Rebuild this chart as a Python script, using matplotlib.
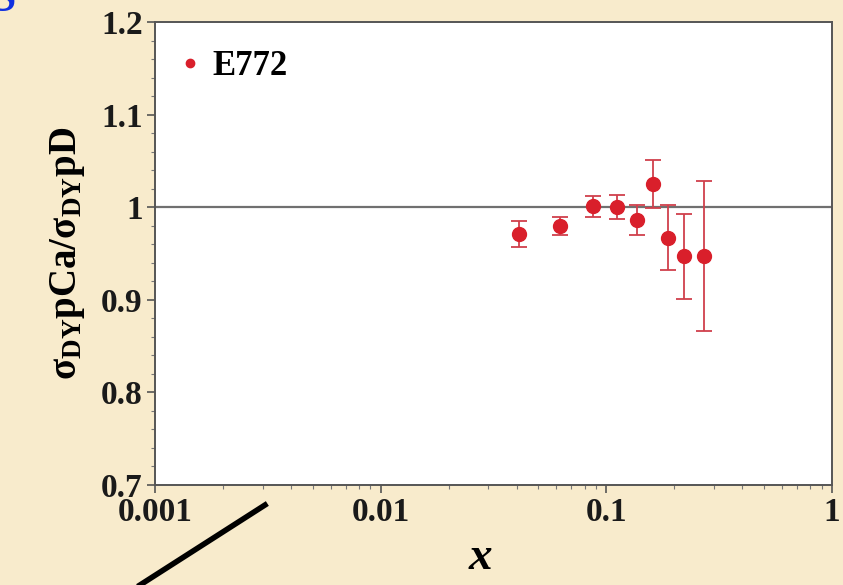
import numpy as np
import matplotlib.pyplot as plt
from matplotlib.lines import Line2D

# E772 pCa/pD Drell-Yan ratio
x_vals = [0.0411, 0.0622, 0.0875, 0.111, 0.136, 0.161, 0.187, 0.221, 0.272]
ratio = [0.971, 0.980, 1.001, 1.000, 0.986, 1.025, 0.967, 0.947, 0.947]
err = [0.014, 0.010, 0.011, 0.013, 0.016, 0.026, 0.035, 0.046, 0.081]

x_ticks = [0.001, 0.01, 0.1, 1]
x_ticklabels = ['0.001', '0.01', '0.1', '1']
y_ticks = [0.7, 0.8, 0.9, 1.0, 1.1, 1.2]
y_ticklabels = ['0.7', '0.8', '0.9', '1', '1.1', '1.2']

plt.rcParams['font.family'] = 'Liberation Serif'
plt.rcParams['font.weight'] = 'bold'
plt.rcParams['mathtext.fontset'] = 'custom'
plt.rcParams['mathtext.rm'] = 'Liberation Serif:bold'
plt.rcParams['mathtext.it'] = 'Liberation Serif:italic:bold'
plt.rcParams['mathtext.bf'] = 'Liberation Serif:bold'

bg = '#f8ebcc'
red = '#d91f2b'

fig = plt.figure(figsize=(8.43, 5.85), dpi=100, facecolor=bg)
ax = fig.add_axes([0.184, 0.171, 0.803, 0.791])
ax.set_facecolor('white')

ax.axhline(1.0, color='#707070', lw=1.6, zorder=1)
ax.errorbar(x_vals, ratio, yerr=err, fmt='o', color=red, ms=10,
            ecolor='#d0404c', elinewidth=1.3, capsize=6, capthick=1.3, zorder=3)

ax.set_xscale('log')
ax.set_xlim(0.001, 1)
ax.set_ylim(0.7, 1.2)
ax.set_xticks(x_ticks)
ax.set_xticklabels(x_ticklabels)
ax.set_yticks(y_ticks)
ax.set_yticklabels(y_ticklabels)
ax.set_yticks(np.arange(0.7, 1.2001, 0.02), minor=True)
ax.tick_params(axis='both', which='major', labelsize=24, direction='out',
               length=6, width=1.2, colors='#555555', labelcolor='#1a1a1a', pad=2)
ax.tick_params(axis='both', which='minor', direction='out', length=3,
               width=0.8, colors='#777777')
ax.tick_params(axis='y', pad=3)
ax.tick_params(axis='x', pad=3)

for s in ax.spines.values():
    s.set_color('#555555')
    s.set_linewidth(1.4)

ax.set_xlabel(r'$x$', fontsize=34, labelpad=6, x=0.48)
ax.set_ylabel(r'$\mathrm{σ}_{\mathrm{DY}}\mathrm{pCa/σ}_{\mathrm{DY}}\mathrm{pD}$',
              fontsize=28, labelpad=10)

handle = Line2D([], [], marker='o', ls='none', color=red, ms=6)
leg = ax.legend([handle], ['E772'], loc='upper left', frameon=False,
                bbox_to_anchor=(-0.018, 1.0065),
                prop={'size': 25, 'weight': 'bold'}, handletextpad=0.19,
                borderaxespad=0.6, handlelength=0.9, borderpad=0.3)

# slide decorations
fig.add_artist(Line2D([140 / 843, 265 / 843], [0.0, 1 - 505 / 585],
                      color='black', lw=4))
fig.text(-0.012, 1.0, 'S', color='#1030e0', fontsize=34, fontweight='bold',
         va='center', ha='left')

fig.savefig('out.png', dpi=100, facecolor=bg)
